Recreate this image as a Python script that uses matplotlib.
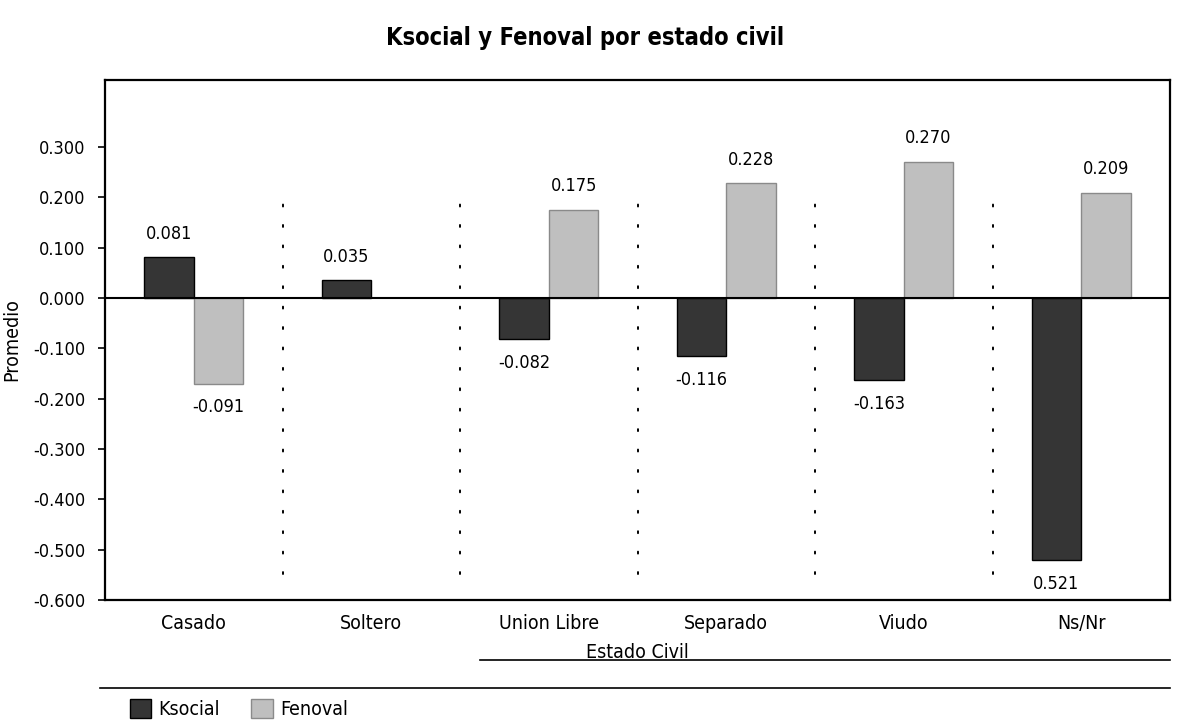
import numpy as np
import matplotlib.pyplot as plt
from matplotlib.lines import Line2D
from matplotlib.patches import Patch

plt.rcParams['font.family'] = ['DejaVu Sans']
plt.rcParams['font.stretch'] = 'condensed'

# Data
categorias = ['Casado', 'Soltero', 'Union Libre', 'Separado', 'Viudo', 'Ns/Nr']
ksocial = [0.081, 0.035, -0.082, -0.116, -0.163, -0.521]
fenoval = [-0.170, np.nan, 0.175, 0.228, 0.270, 0.209]
# printed labels (as they appear in the original)
ksocial_txt = ['0.081', '0.035', '-0.082', '-0.116', '-0.163', '0.521']
fenoval_txt = ['-0.091', '', '0.175', '0.228', '0.270', '0.209']
yticks = [-0.6, -0.5, -0.4, -0.3, -0.2, -0.1, 0.0, 0.1, 0.2, 0.3]

W, H = 1181, 722
fig = plt.figure(figsize=(W / 100, H / 100), dpi=100)
ax = fig.add_axes([105 / W, 1 - 600 / H, 1065 / W, 520 / H])

x = np.arange(len(categorias))
bw = 0.28
ax.bar(x - bw / 2, ksocial, bw, color='#353535', edgecolor='black', lw=1)
ax.bar(x + bw / 2, fenoval, bw, color='#bfbfbf', edgecolor='#8a8a8a', lw=1)

# value labels
for xi, v, t in zip(x - bw / 2, ksocial, ksocial_txt):
    off = 17 if v >= 0 else -17
    ax.annotate(t, (xi, v), xytext=(0, off), textcoords='offset points',
                ha='center', va='center', fontsize=13)
for xi, v, t in zip(x + bw / 2, fenoval, fenoval_txt):
    if not t:
        continue
    off = 17 if v >= 0 else -17
    ax.annotate(t, (xi, v), xytext=(0, off), textcoords='offset points',
                ha='center', va='center', fontsize=13)

# dotted separators between groups
for s in x[:-1] + 0.5:
    ax.plot([s, s], [-0.548, 0.215], color='black', lw=1.4,
            linestyle=(0, (1, 9.5)), dash_capstyle='round')

ax.axhline(0, color='black', lw=1.5)

ax.set_xlim(-0.5, len(categorias) - 0.5)
ax.set_ylim(-0.6, 0.433)
ax.set_yticks(yticks)
ax.set_yticklabels(['%.3f' % v for v in yticks])
ax.set_xticks(x)
ax.set_xticklabels(categorias)
ax.tick_params(axis='y', direction='out', length=5, width=1.2, pad=9, labelsize=13)
ax.tick_params(axis='x', length=0, pad=10, labelsize=14)
for sp in ax.spines.values():
    sp.set_linewidth(1.6)

ax.set_xlabel('Estado Civil', fontsize=14, labelpad=7)
ax.set_ylabel('Promedio', fontsize=14)
ax.yaxis.set_label_coords(-84 / 1065, 0.5)

fig.text(585 / W, 1 - 38 / H, 'Ksocial y Fenoval por estado civil',
         ha='center', va='center', fontsize=17, fontweight='bold')

# rules under the chart
fig.add_artist(Line2D([480 / W, 1170 / W], [1 - 660 / H, 1 - 660 / H], color='black', lw=1.2))
fig.add_artist(Line2D([100 / W, 1170 / W], [1 - 688 / H, 1 - 688 / H], color='black', lw=1.2))

handles = [Patch(facecolor='#353535', edgecolor='black'),
           Patch(facecolor='#bfbfbf', edgecolor='#8a8a8a')]
fig.legend(handles, ['Ksocial', 'Fenoval'], ncol=2, frameon=False, fontsize=14,
           loc='center left', bbox_to_anchor=(112 / W, 1 - 709 / H),
           handlelength=1.1, handleheight=1.1, columnspacing=1.6, handletextpad=0.4)

fig.savefig('out.png', dpi=100)
